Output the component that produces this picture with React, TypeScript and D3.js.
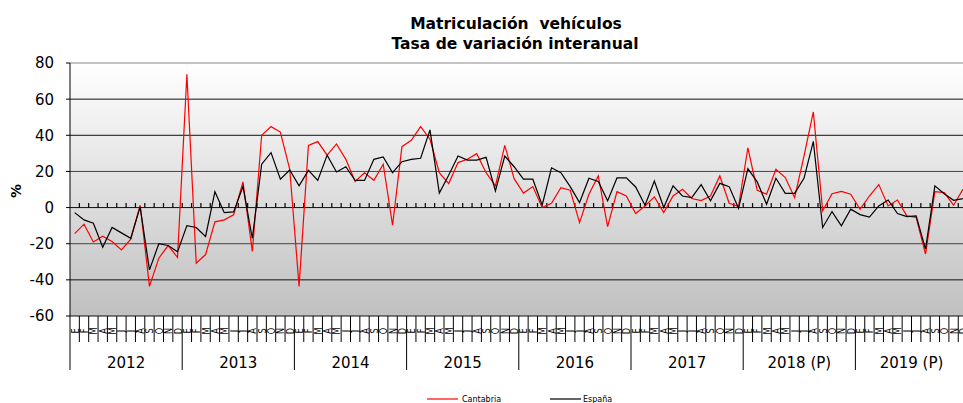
import React from "react"
import * as d3 from "d3"

// monthly year-on-year variation (%), Jan 2012 .. Dec 2019
const cantabria = [
  -14.4, -9.2, -19, -15.8, -18.8, -23.4, -17.5, 1.3, -43.6, -28, -21, -27.6,
  73.7, -30.8, -26, -7.9, -6.8, -4, 14.2, -24.3, 40, 44.8, 41.8, 21.2,
  -43.6, 34.4, 36.5, 29, 35.2, 26.7, 14.4, 19.3, 15.1, 24, -9.8, 33.7,
  37.2, 44.8, 37.8, 19.3, 13.3, 24.9, 26.7, 29.8, 19.3, 12, 34.4, 16,
  8, 11.6, 0, 2.4, 11, 9.6, -8.3, 7.4, 17.5, -10.5, 8.8, 6.4,
  -3.3, 0.9, 5.9, -2.8, 6.4, 10.1, 5, 3.9, 6.4, 17.5, 2.4, 0.6,
  33.1, 9.6, 7.4, 21.2, 16.6, 5.5, 28.5, 52.9, -1.8, 7.7, 9, 7.4,
  -0.9, 6.4, 12.7, 0.9, 4.2, -4.6, -5.5, -25.8, 8.8, 8.3, 1.3, 10.1,
]

const espana = [
  -2.8, -6.8, -8.7, -22, -11, -14, -17, 0.4, -34.5, -20, -21, -24.5,
  -10, -11, -16, 8.8, -2.8, -2.4, 11.6, -17, 24, 30.4, 15.7, 20.8,
  12, 20.6, 15, 29, 19.7, 22.6, 15, 15, 26.7, 28, 19.3, 25.4,
  26.7, 27.3, 43, 8, 17.9, 28.5, 26.3, 26.3, 27.8, 9.2, 28.5, 22.6,
  15.7, 15.7, 1.3, 22, 19.3, 11.6, 2.8, 16.2, 14.4, 3.7, 16.4, 16.4,
  11.4, 1.3, 14.7, 0, 12, 6.4, 5.5, 12.7, 3.7, 13.4, 11.6, -0.4,
  21.5, 14.2, 1.8, 16.2, 7.9, 7.9, 16.2, 36.6, -11, -2.2, -10.1, -0.9,
  -3.9, -5.3, 0.9, 4.2, -3.3, -5, -4.6, -23, 12, 7.7, 4, 5,
]

const months = ["E", "F", "M", "A", "M", "J", "J", "A", "S", "O", "N", "D"]
const years = ["2012", "2013", "2014", "2015", "2016", "2017", "2018 (P)", "2019 (P)"]
const yTicks = [80, 60, 40, 20, 0, -20, -40, -60]

const W = 963
const H = 403
const left = 70
const top = 63
const bottom = 316
const monthW = 9.35
const font = "DejaVu Sans, Verdana, sans-serif"

export default function App() {
  const n = years.length * 12
  const x = d3.scaleLinear().domain([0, n]).range([left, left + n * monthW])
  const y = d3.scaleLinear().domain([-60, 80]).range([bottom, top])

  const line = d3
    .line<number>()
    .x((_, i) => x(i + 0.5))
    .y((d) => y(d))

  const idx = d3.range(n)

  return (
    <svg width={W} height={H} style={{ position: "absolute", left: 0, top: 0, display: "block" }} fontFamily={font}>
      <defs>
        <linearGradient id="bg" x1="0" y1="0" x2="0" y2="1">
          <stop offset="0" stopColor="#ffffff" />
          <stop offset="1" stopColor="#c0c0c0" />
        </linearGradient>
      </defs>
      <rect width={W} height={H} fill="#fff" />

      {/* title */}
      <text x={516} y={28.5} textAnchor="middle" fontWeight="bold" fontSize={15.5} xmlSpace="preserve">
        {"Matriculación  vehículos"}
      </text>
      <text x={515} y={48.5} textAnchor="middle" fontWeight="bold" fontSize={15.5}>
        Tasa de variación interanual
      </text>

      {/* plot background */}
      <rect x={left} y={top} width={x(n) - left} height={bottom - top} fill="url(#bg)" />

      {/* grid */}
      {yTicks.map((t) => (
        <line
          key={t}
          x1={left}
          x2={x(n)}
          y1={y(t)}
          y2={y(t)}
          stroke={t === 80 ? "#888" : t === 20 || t === -20 ? "#444" : "#111"}
          strokeWidth={1}
        />
      ))}

      {/* y axis */}
      <line x1={left} x2={left} y1={top} y2={bottom} stroke="#000" />
      {yTicks.map((t) => (
        <g key={"yt" + t}>
          <line x1={left - 4} x2={left} y1={y(t)} y2={y(t)} stroke="#000" />
          <text x={54} y={y(t)} dy="0.36em" textAnchor="end" fontSize={15}>
            {t}
          </text>
        </g>
      ))}
      <text
        transform={`translate(21,${191}) rotate(-90)`}
        textAnchor="middle"
        fontWeight="bold"
        fontSize={14}
      >
        %
      </text>

      {/* ticks along zero line */}
      {d3.range(1, n + 1).map((k) => (
        <line key={"zt" + k} x1={x(k)} x2={x(k)} y1={y(0) - 4.5} y2={y(0)} stroke="#000" strokeWidth={1.2} />
      ))}

      {/* series */}
      <path d={line(cantabria) || ""} fill="none" stroke="#ff0000" strokeWidth={1.2} />
      <path d={line(espana) || ""} fill="none" stroke="#000" strokeWidth={1.2} />

      {/* bottom category axis */}
      {d3.range(0, n + 1).map((k) => (
        <line
          key={"bt" + k}
          x1={x(k)}
          x2={x(k)}
          y1={bottom}
          y2={k % 12 === 0 ? 370 : 342}
          stroke="#000"
        />
      ))}
      {idx.map((i) => (
        <text
          key={"m" + i}
          transform={`translate(${x(i + 0.5) + 4},${331}) rotate(-90) scale(0.75,1)`}
          textAnchor="middle"
          fontSize={11}
        >
          {months[i % 12]}
        </text>
      ))}
      {years.map((yr, j) => (
        <text key={yr} x={x(j * 12 + 6)} y={368} textAnchor="middle" fontSize={15}>
          {yr}
        </text>
      ))}

      {/* legend */}
      <line x1={427} x2={458} y1={399} y2={399} stroke="#ff0000" strokeWidth={1.2} />
      <text x={462} y={402} fontSize={8}>
        Cantabria
      </text>
      <line x1={550} x2={581} y1={399} y2={399} stroke="#000" strokeWidth={1.2} />
      <text x={583} y={402} fontSize={8}>
        España
      </text>
    </svg>
  )
}
